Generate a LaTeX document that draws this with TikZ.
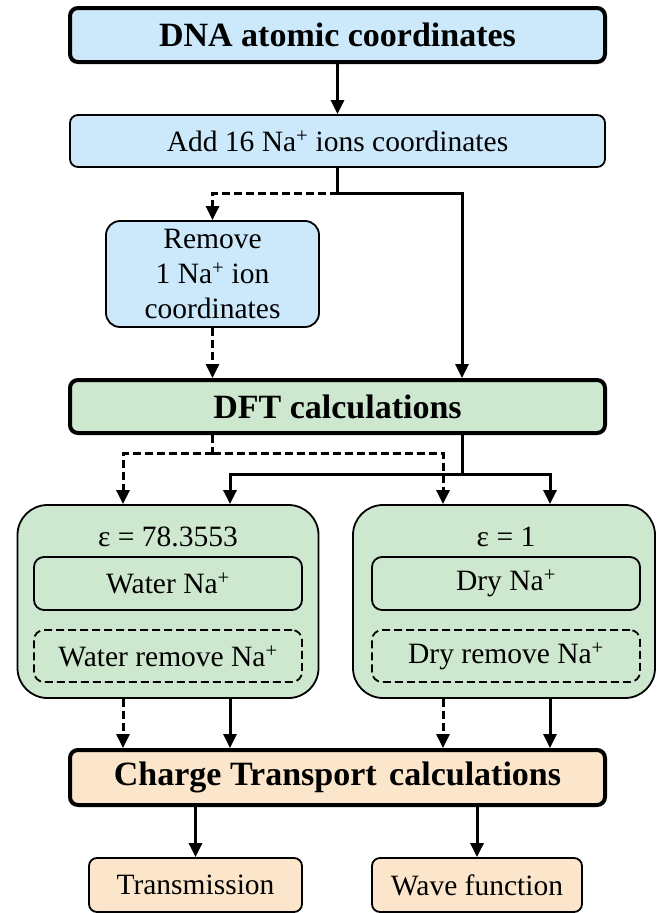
\documentclass[tikz,border=0pt]{standalone}
\usepackage{fontspec}
\setmainfont{Liberation Serif}
\usetikzlibrary{arrows.meta,calc}
\definecolor{bluefill}{RGB}{204,232,251}
\definecolor{greenfill}{RGB}{205,232,206}
\definecolor{peachfill}{RGB}{252,230,203}
\newcommand{\regfont}{\fontsize{29.5}{35}\selectfont}
\newcommand{\boldfont}{\fontsize{34}{38}\selectfont\bfseries}
\tikzset{
  box/.style={draw=black, rectangle, inner sep=0pt, align=center, font=\regfont},
  thickbox/.style={box, line width=4pt, rounded corners=8pt, minimum width=535pt, font=\boldfont},
  thinbox/.style={box, line width=1.8pt, rounded corners=8pt},
  conn/.style={line width=3pt, draw=black},
  arr/.style={conn, -{Triangle[length=14pt,width=13pt]}},
  dsh/.style={dash pattern=on 8pt off 4pt},
}
\begin{document}
\begin{tikzpicture}[x=1pt,y=-1pt]
\useasboundingbox (0,0) rectangle (660,913);
% top boxes
\node[thickbox, fill=bluefill, minimum height=54pt] (dna) at (337.5,35) {DNA atomic coordinates};
\node[thinbox, fill=bluefill, minimum width=535pt, minimum height=52pt] (add) at (337.5,141) {Add 16 Na\textsuperscript{+} ions coordinates};
\node[thinbox, fill=bluefill, rounded corners=14pt, minimum width=213pt, minimum height=106pt] (remove) at (212.5,274) {Remove\\1 Na\textsuperscript{+} ion\\coordinates};
\node[thickbox, fill=greenfill, minimum height=53pt] (dft) at (337.5,406.5) {DFT calculations};
% green groups
\node[thinbox, fill=greenfill, rounded corners=30pt, minimum width=301pt, minimum height=193pt] (gl) at (168,601.5) {};
\node[thinbox, fill=greenfill, rounded corners=30pt, minimum width=302pt, minimum height=193pt] (gr) at (504,601.5) {};
\node[font=\regfont, inner sep=0pt] (epsl) at (168,537) {ε = 78.3553};
\node[font=\regfont, inner sep=0pt] (epsr) at (506,537) {ε = 1};
\node[thinbox, rounded corners=10pt, minimum width=268pt, minimum height=53pt] (water) at (168,583.5) {Water Na\textsuperscript{+}};
\node[thinbox, rounded corners=10pt, minimum width=268pt, minimum height=53pt] (dry) at (506,583.5) {Dry Na\textsuperscript{+}};
\node[thinbox, dsh, rounded corners=10pt, minimum width=268pt, minimum height=52pt] (waterrm) at (168,656) {Water remove Na\textsuperscript{+}};
\node[thinbox, dsh, rounded corners=10pt, minimum width=268pt, minimum height=52pt] (dryrm) at (506,656) {Dry remove Na\textsuperscript{+}};
% bottom
\node[thickbox, fill=peachfill, minimum height=55pt] (charge) at (337.5,777.5) {Charge Transport\hspace{4pt} calculations};
\node[thinbox, fill=peachfill, minimum width=213pt, minimum height=54pt] (trans) at (195.5,885) {Transmission};
\node[thinbox, fill=peachfill, minimum width=210pt, minimum height=54pt] (wave) at (477,885) {Wave function};
% connectors top
\draw[arr] (dna) -- (add);
\coordinate (j1) at (337.5,193);
\draw[conn] (add.south) -- (j1);
\draw[arr] (j1) -| ([xshift=124.5pt]dft.north);
\draw[arr, dsh] (j1) -| (remove.north);
\draw[arr, dsh] (remove.south) -- (remove.south |- dft.north);
% DFT to groups
\coordinate (d1) at (212.5,453);
\draw[conn, dsh] (remove.south |- dft.south) -- (d1);
\draw[arr, dsh] (d1) -| ([xshift=-45pt]gl.north);
\draw[arr, dsh] (d1) -| ([xshift=-61pt]gr.north);
\coordinate (s1) at (462,474);
\draw[conn] ([xshift=124.5pt]dft.south) -- (s1);
\draw[arr] (s1) -| ([xshift=62pt]gl.north);
\draw[arr] (s1) -| ([xshift=46pt]gr.north);
% groups to charge
\draw[arr, dsh] ([xshift=-45pt]gl.south) -- ([xshift=-45pt]gl.south |- charge.north);
\draw[arr] ([xshift=62pt]gl.south) -- ([xshift=62pt]gl.south |- charge.north);
\draw[arr, dsh] ([xshift=-61pt]gr.south) -- ([xshift=-61pt]gr.south |- charge.north);
\draw[arr] ([xshift=46pt]gr.south) -- ([xshift=46pt]gr.south |- charge.north);
% charge to outputs
\draw[arr] (charge.south -| trans.north) -- (trans.north);
\draw[arr] (charge.south -| wave.north) -- (wave.north);
\end{tikzpicture}
\end{document}
